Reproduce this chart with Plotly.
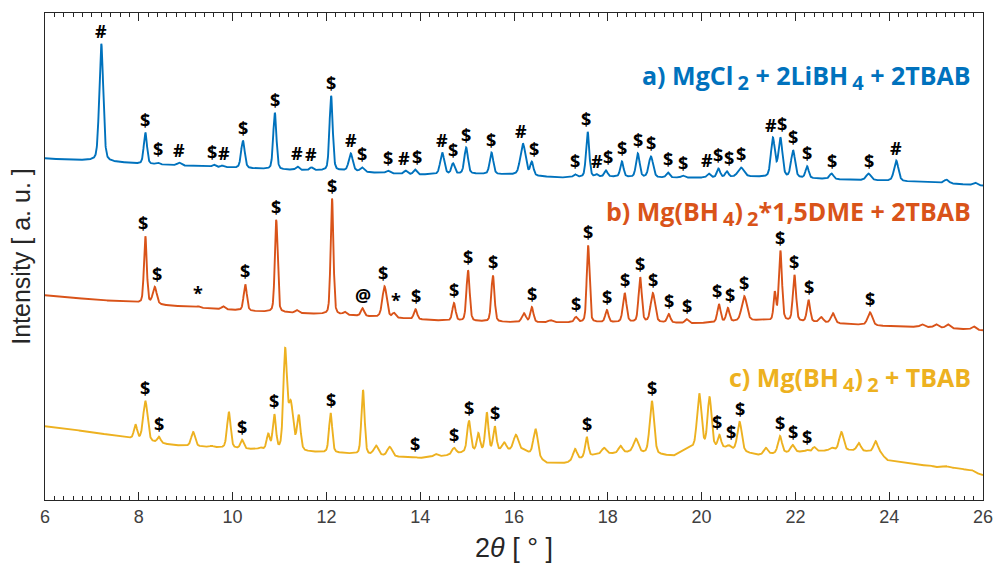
import numpy as np
import plotly.graph_objects as go

# ---------------- data ----------------
# Intensities are in arbitrary units; patterns are already offset vertically.

# a) MgCl2 + 2LiBH4 + 2TBAB
A_BASE_X = [5.8, 6.0, 7.0, 8.0, 9.0, 10.0, 11.0, 12.0, 12.5, 13.0, 14.0, 15.0, 16.0, 17.0, 18.0, 19.0, 20.0, 21.0, 22.0, 23.0, 24.0, 25.0, 26.0]
A_BASE_Y = [343, 342, 340, 337, 335, 333, 331, 330, 330, 328, 326, 327, 326, 323, 324, 323, 323, 324, 323, 321, 320, 318, 315]
A_PEAK_POS = [7.20, 8.14, 8.40, 8.86, 9.60, 9.78, 10.22, 10.90, 11.38, 11.68, 12.10, 12.52, 12.76, 13.31, 13.69, 13.89,
              14.47, 14.70, 14.98, 15.52, 16.19, 16.38, 17.30, 17.57, 17.76, 17.96, 18.30, 18.64, 18.92, 19.28, 19.60,
              20.15, 20.36, 20.54, 20.84, 21.52, 21.68, 21.95, 22.25, 22.77, 23.56, 24.15, 25.22, 25.83]
A_PEAK_TOP = [457, 368, 338, 338, 336, 335, 360, 388, 334, 333, 405, 347, 333, 330, 330, 331,
              348, 337, 353, 348, 357, 338, 326, 369, 326, 330, 339, 347, 344, 328, 325,
              327, 332, 329, 333, 362, 362, 350, 334, 327, 327, 340, 321, 318]
A_PEAK_FWHM = [0.10, 0.08, 0.08, 0.09, 0.08, 0.08, 0.09, 0.08, 0.08, 0.08, 0.08, 0.10, 0.09, 0.10, 0.08, 0.08,
               0.10, 0.08, 0.09, 0.09, 0.13, 0.08, 0.08, 0.08, 0.06, 0.08, 0.08, 0.09, 0.11, 0.08, 0.08,
               0.08, 0.08, 0.08, 0.15, 0.10, 0.10, 0.10, 0.08, 0.10, 0.12, 0.11, 0.12, 0.10]
A_MARK_POS = [7.20, 8.14, 8.40, 8.86, 9.60, 9.78, 10.22, 10.90, 11.38, 11.68, 12.10, 12.52, 12.76, 13.31, 13.69, 13.89,
              14.47, 14.70, 14.98, 15.52, 16.19, 16.38, 17.30, 17.57, 17.76, 17.96, 18.30, 18.64, 18.92, 19.28, 19.60,
              20.15, 20.36, 20.54, 20.84, 21.52, 21.68, 21.95, 22.25, 22.77, 23.56, 24.15]
A_MARK_SYM = ["#", "$", "$", "#", "$", "#", "$", "$", "#", "#", "$", "#", "$", "$", "#", "$",
              "#", "$", "$", "$", "#", "$", "$", "$", "#", "$", "$", "$", "$", "$", "$",
              "#", "$", "$", "$", "#", "$", "$", "$", "$", "$", "#"]

# b) Mg(BH4)2*1,5DME + 2TBAB
B_BASE_X = [5.8, 6.0, 7.0, 7.9, 8.6, 9.5, 10.5, 11.5, 12.5, 13.6, 14.3, 15.2, 16.0, 16.9, 17.8, 19.0, 19.9, 21.2, 22.5, 23.2, 24.0, 25.0, 26.0]
B_BASE_Y = [206, 205, 201, 198, 195, 192, 189, 187, 185, 182, 180, 179, 178, 178, 178, 178, 177, 180, 178, 176, 174, 173, 170]
B_PEAK_POS = [8.14, 8.34, 9.27, 9.80, 10.27, 10.93, 11.37, 12.12, 12.39, 12.77, 13.24, 13.44, 13.90, 14.72, 15.02, 15.55,
              16.21, 16.38, 16.78, 17.32, 17.58, 17.98, 18.36, 18.69, 18.96, 19.30, 19.68, 20.37, 20.56, 20.91,
              21.56, 21.68, 21.98, 22.28, 22.55, 22.80, 23.59, 24.70, 25.00, 25.25, 25.80]
B_PEAK_TOP = [264, 213, 194, 194, 216, 281, 190, 302, 188, 192, 214, 187, 191, 197, 230, 225,
              187, 193, 180, 183, 255, 190, 207, 223, 207, 186, 181, 196, 192, 204,
              207, 249, 225, 200, 183, 187, 188, 176, 176, 176, 174]
B_PEAK_FWHM = [0.07, 0.10, 0.08, 0.08, 0.08, 0.07, 0.08, 0.07, 0.08, 0.08, 0.11, 0.08, 0.08, 0.08, 0.08, 0.08,
               0.10, 0.08, 0.10, 0.08, 0.07, 0.08, 0.09, 0.08, 0.11, 0.08, 0.08, 0.08, 0.08, 0.13,
               0.06, 0.08, 0.08, 0.08, 0.10, 0.10, 0.12, 0.10, 0.10, 0.10, 0.10]
B_MARK_POS = [8.14, 8.34, 9.27, 10.27, 10.93, 12.12, 12.77, 13.24, 13.44, 13.90, 14.72, 15.02, 15.55, 16.38, 17.32, 17.58,
              17.98, 18.36, 18.69, 18.96, 19.30, 19.68, 20.37, 20.56, 20.91, 21.68, 21.98, 22.28, 23.59]
B_MARK_SYM = ["$", "$", "*", "$", "$", "$", "@", "$", "*", "$", "$", "$", "$", "$", "$", "$",
              "$", "$", "$", "$", "$", "$", "$", "$", "$", "$", "$", "$", "$"]

# c) Mg(BH4)2 + TBAB
C_BASE_X = [5.8, 6.0, 7.0, 7.8, 8.7, 9.5, 10.3, 11.7, 12.3, 12.9, 13.6, 14.0, 14.5, 15.0, 16.2, 16.7, 17.1, 17.7, 18.5, 19.4, 19.75, 20.5, 21.2, 22.0, 23.0, 23.8, 23.95, 24.5, 25.0, 25.5, 26.0]
C_BASE_Y = [75, 74, 68, 62, 55, 53, 51, 48, 47, 45, 43, 42, 44, 48, 50, 37, 37, 45, 48, 44, 52, 52, 45, 48, 50, 48, 40, 36, 33, 32, 25]
C_PEAK_POS = [7.93, 8.14, 8.43, 9.16, 9.55, 9.92, 10.20, 10.59, 10.76, 10.89, 11.12, 11.24, 11.41, 12.09, 12.78, 13.06,
              13.35, 13.89, 14.33, 14.72, 15.04, 15.24, 15.42, 15.59, 15.79, 16.04, 16.46, 17.30, 17.55, 17.92,
              18.27, 18.60, 18.94, 19.95, 20.17, 20.38, 20.58, 20.81, 21.37, 21.67, 21.94, 22.25, 22.40, 22.77,
              22.98, 23.35, 23.71, 24.85, 25.20, 25.76]
C_PEAK_TOP = [75, 99, 63, 68, 54, 88, 60, 52, 65, 84, 147, 95, 83, 87, 110, 54,
              53, 43, 46, 52, 79, 66, 87, 73, 57, 65, 71, 51, 63, 52,
              54, 61, 99, 106, 102, 64, 54, 78, 52, 64, 55, 50, 53, 52,
              68, 57, 59, 35, 34, 30]
C_PEAK_FWHM = [0.08, 0.11, 0.08, 0.10, 0.08, 0.09, 0.08, 0.08, 0.08, 0.08, 0.09, 0.12, 0.09, 0.08, 0.08, 0.12,
               0.12, 0.08, 0.10, 0.10, 0.09, 0.08, 0.08, 0.08, 0.10, 0.12, 0.11, 0.10, 0.08, 0.12,
               0.10, 0.12, 0.11, 0.11, 0.10, 0.08, 0.08, 0.11, 0.10, 0.10, 0.10, 0.08, 0.08, 0.10,
               0.11, 0.10, 0.10, 0.12, 0.12, 0.10]
C_MARK_POS = [8.14, 8.43, 10.20, 10.89, 12.09, 13.89, 14.72, 15.04, 15.59, 17.55, 18.94, 20.38, 20.58, 20.81, 21.67, 21.94, 22.25]
C_MARK_SYM = ["$"] * len(C_MARK_POS)


def sub(t):
    # thin space, then a near full-size subscript digit
    return f"\u2009<sub><span style='font-size:20px'>{t}</span></sub>"


SERIES = [
    dict(name=f"a) MgCl{sub(2)} + 2LiBH{sub(4)} + 2TBAB", color="#0072BD", label_y=424,
         base=(A_BASE_X, A_BASE_Y), peaks=(A_PEAK_POS, A_PEAK_TOP, A_PEAK_FWHM), marks=(A_MARK_POS, A_MARK_SYM)),
    dict(name=f"b) Mg(BH{sub(4)}){sub(2)}*1,5DME + 2TBAB", color="#D95319", label_y=288,
         base=(B_BASE_X, B_BASE_Y), peaks=(B_PEAK_POS, B_PEAK_TOP, B_PEAK_FWHM), marks=(B_MARK_POS, B_MARK_SYM)),
    dict(name=f"c) Mg(BH{sub(4)}){sub(2)} + TBAB", color="#EDB120", label_y=121,
         base=(C_BASE_X, C_BASE_Y), peaks=(C_PEAK_POS, C_PEAK_TOP, C_PEAK_FWHM), marks=(C_MARK_POS, C_MARK_SYM)),
]

X_MIN, X_MAX = 6, 26
Y_MAX = 488


def pseudo_voigt(x, pos, fwhm, eta=0.3):
    g = np.exp(-4 * np.log(2) * ((x - pos) / fwhm) ** 2)
    lo = 1.0 / (1.0 + 4 * ((x - pos) / fwhm) ** 2)
    return eta * lo + (1 - eta) * g


def pattern(x, base, peaks):
    bx, by = base
    y = np.interp(x, bx, by).astype(float)
    for pos, top, w in zip(*peaks):
        amp = top - np.interp(pos, bx, by)
        y = y + amp * pseudo_voigt(x, pos, w)
    return y


two_theta = np.arange(5.8, 26.0001, 0.004)

fig = go.Figure()
annotations = []
for s in SERIES:
    inten = pattern(two_theta, s["base"], s["peaks"])
    fig.add_trace(go.Scatter(x=two_theta, y=inten, mode="lines",
                             line=dict(color=s["color"], width=1.9),
                             showlegend=False, hoverinfo="skip"))
    mpos, msym = s["marks"]
    for i, (pos, sym) in enumerate(zip(mpos, msym)):
        # nudge neighbouring symbols apart a little
        dx = 0
        if i > 0 and pos - mpos[i - 1] < 0.225:
            dx += 2
        if i < len(mpos) - 1 and mpos[i + 1] - pos < 0.225:
            dx -= 2
        annotations.append(dict(x=pos, y=float(np.interp(pos, two_theta, inten)), xref="x", yref="y",
                                text=sym, showarrow=False, yanchor="bottom", yshift=-1, xshift=dx,
                                font=dict(family="Open Sans", size=18, color="black", weight="bold")))
    annotations.append(dict(x=0.9895, xref="paper", y=s["label_y"], yref="y", text=s["name"],
                            showarrow=False, xanchor="right", yanchor="middle",
                            font=dict(family="Open Sans", size=25, color=s["color"], weight="bold")))

axis_col = "#262626"
fig.update_layout(
    width=995, height=574,
    margin=dict(l=45, r=12, t=13, b=74),
    paper_bgcolor="white", plot_bgcolor="white",
    annotations=annotations,
    xaxis=dict(range=[X_MIN, X_MAX], tickmode="array", tickvals=list(range(6, 27, 2)),
               ticktext=[str(v) for v in range(6, 27, 2)], automargin=False,
               ticks="inside", ticklen=8, tickwidth=1, tickcolor=axis_col,
               minor=dict(ticks="inside", ticklen=4, dtick=0.2, tickcolor=axis_col, tickwidth=1),
               showline=True, linecolor=axis_col, linewidth=1, mirror="ticks",
               showgrid=False, zeroline=False,
               tickfont=dict(family="Liberation Sans Narrow, Liberation Sans, Arial", size=18, color="#404040"),
               title=dict(text="2<i>θ</i> [ ° ]", standoff=12,
                          font=dict(family="Liberation Sans Narrow, Liberation Sans, Arial", size=27, color=axis_col))),
    yaxis=dict(range=[0, Y_MAX], showticklabels=False, ticks="", showgrid=False, zeroline=False,
               showline=True, linecolor=axis_col, linewidth=1, mirror=True, automargin=False,
               title=dict(text="Intensity [ a. u. ]", standoff=6,
                          font=dict(family="Liberation Sans, Arial", size=25, color=axis_col))),
)

fig.write_html("out.html")
